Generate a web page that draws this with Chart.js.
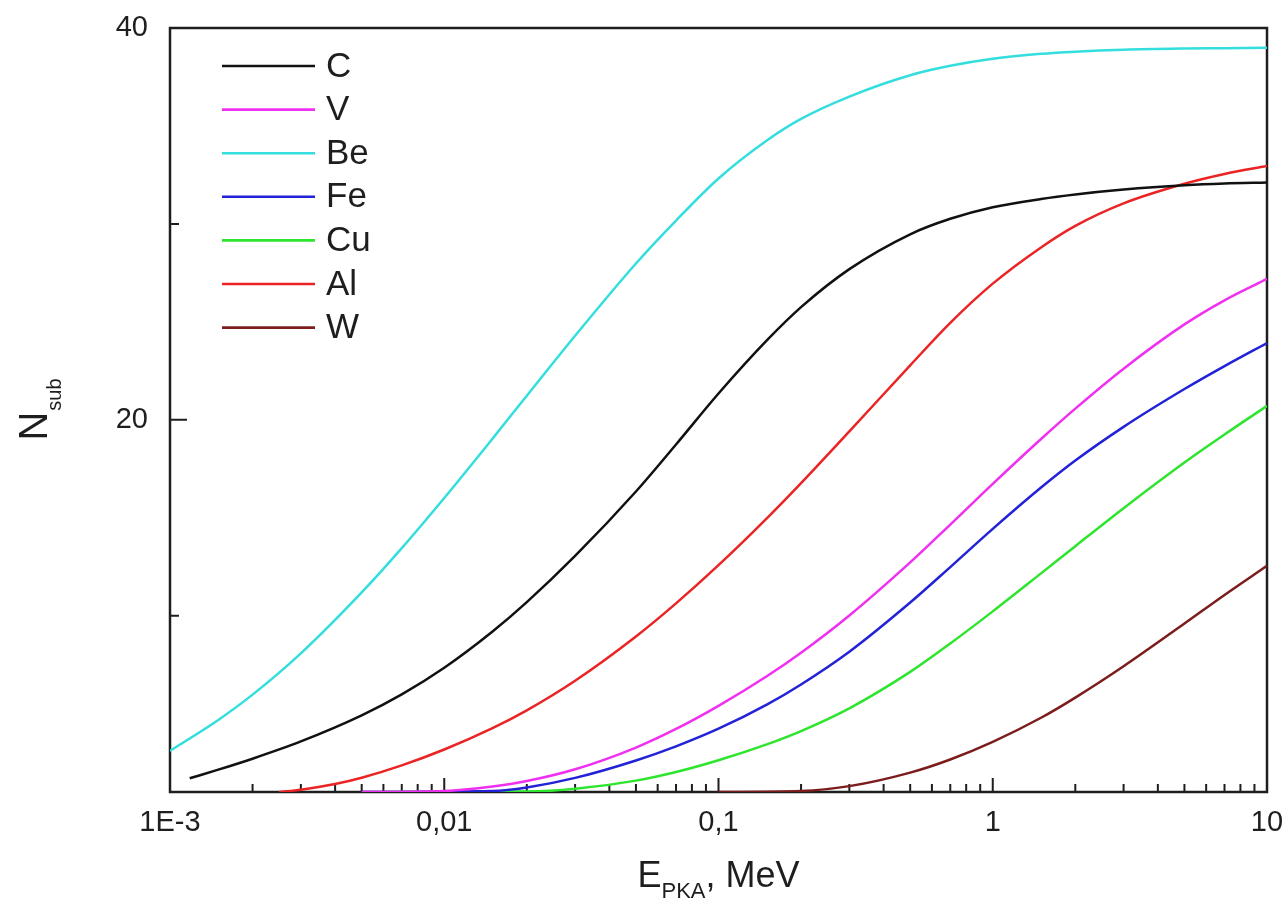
<!DOCTYPE html>
<html>
<head>
<meta charset="utf-8">
<script src="https://cdn.jsdelivr.net/npm/chart.js@4.4.1/dist/chart.umd.min.js"></script>
<style>
html,body{margin:0;padding:0;background:#ffffff;}
#wrap{width:1287px;height:902px;position:relative;}
</style>
</head>
<body>
<div id="wrap"><canvas id="chart" width="1287" height="902"></canvas></div>
<script>
// ---------- data ----------
const seriesNames = ['C', 'V', 'Be', 'Fe', 'Cu', 'Al', 'W'];

const energyC  = [0.00118, 0.0015, 0.002, 0.003, 0.005, 0.007, 0.01, 0.015, 0.02, 0.03, 0.05, 0.07, 0.1, 0.15, 0.2, 0.3, 0.5, 0.7, 1, 1.5, 2, 3, 5, 7, 10];
const nsubC    = [1.7, 2.14, 2.70, 3.58, 4.91, 5.98, 7.34, 9.19, 10.69, 13.05, 16.34, 18.74, 21.34, 24.05, 25.75, 27.69, 29.47, 30.26, 30.85, 31.27, 31.5, 31.75, 31.97, 32.06, 32.11];

const energyV  = [0.005, 0.01, 0.015, 0.02, 0.03, 0.05, 0.07, 0.1, 0.15, 0.2, 0.3, 0.5, 0.7, 1, 1.5, 2, 3, 5, 7, 10];
const nsubV    = [1.0, 1.05, 1.28, 1.56, 2.16, 3.27, 4.22, 5.4, 6.91, 8.11, 10.01, 12.72, 14.65, 16.73, 19.02, 20.57, 22.61, 24.87, 26.1, 27.19];

const energyBe = [0.001, 0.0015, 0.002, 0.003, 0.005, 0.007, 0.01, 0.015, 0.02, 0.03, 0.05, 0.07, 0.1, 0.15, 0.2, 0.3, 0.5, 0.7, 1, 1.5, 2, 3, 5, 7, 10];
const nsubBe   = [3.1, 4.68, 5.97, 8.08, 11.19, 13.45, 16.01, 19.04, 21.23, 24.29, 27.98, 30.17, 32.32, 34.26, 35.36, 36.5, 37.59, 38.07, 38.43, 38.68, 38.79, 38.89, 38.95, 38.97, 38.99];

const energyFe = [0.005, 0.015, 0.02, 0.03, 0.05, 0.07, 0.1, 0.15, 0.2, 0.3, 0.5, 0.7, 1, 1.5, 2, 3, 5, 7, 10];
const nsubFe   = [1.0, 1.05, 1.23, 1.72, 2.61, 3.33, 4.23, 5.46, 6.49, 8.16, 10.67, 12.48, 14.43, 16.54, 17.92, 19.64, 21.57, 22.74, 23.92];

const energyCu = [0.006, 0.02, 0.03, 0.05, 0.07, 0.1, 0.15, 0.2, 0.3, 0.5, 0.7, 1, 1.5, 2, 3, 5, 7, 10];
const nsubCu   = [1.0, 1.02, 1.16, 1.58, 2.02, 2.62, 3.43, 4.11, 5.27, 7.13, 8.58, 10.22, 12.16, 13.55, 15.49, 17.82, 19.25, 20.71];

const energyAl = [0.0025, 0.003, 0.004, 0.005, 0.007, 0.01, 0.015, 0.02, 0.03, 0.05, 0.07, 0.1, 0.15, 0.2, 0.3, 0.5, 0.7, 1, 1.5, 2, 3, 5, 7, 10];
const nsubAl   = [1.0, 1.12, 1.41, 1.73, 2.36, 3.17, 4.26, 5.17, 6.68, 8.94, 10.63, 12.58, 14.97, 16.77, 19.41, 22.78, 24.95, 26.95, 28.8, 29.9, 31.05, 32.05, 32.55, 32.96];

const energyW  = [0.1, 0.2, 0.3, 0.5, 0.7, 1, 1.5, 2, 3, 5, 7, 10];
const nsubW    = [1.0, 1.05, 1.30, 1.99, 2.66, 3.56, 4.79, 5.82, 7.42, 9.6, 11.06, 12.55];

// ticks
const xMajorTicks = [0.001, 0.01, 0.1, 1, 10];
const xTickLabels = ['1E-3', '0,01', '0,1', '1', '10'];
const xMinorMultipliers = [2, 3, 4, 5, 6, 7, 8, 9];
const yTickValues = [10, 20, 30, 40];
const yTickLabels = ['', '20', '', '40'];

// ---------- build ----------
const colors = {
  C: '#111111', V: '#f030f0', Be: '#34dede', Fe: '#2222d8',
  Cu: '#2ee52e', Al: '#ea2424', W: '#7c1c1c'
};
const seriesData = {
  C: [energyC, nsubC], V: [energyV, nsubV], Be: [energyBe, nsubBe],
  Fe: [energyFe, nsubFe], Cu: [energyCu, nsubCu], Al: [energyAl, nsubAl], W: [energyW, nsubW]
};

const xTickValues = [];
xMajorTicks.forEach((d, i) => {
  xTickValues.push(d);
  if (i < xMajorTicks.length - 1) xMinorMultipliers.forEach(m => xTickValues.push(d * m));
});

function isMajorX(v) {
  return xMajorTicks.findIndex(d => Math.abs(Math.log10(v) - Math.log10(d)) < 1e-6);
}

const FONT = "'Liberation Sans', Arial, Helvetica, sans-serif";
const INK = '#1e1e1e';

const datasets = seriesNames.map(name => ({
  label: name,
  data: seriesData[name][0].map((e, i) => ({x: e, y: seriesData[name][1][i]})),
  borderColor: colors[name],
  backgroundColor: colors[name],
  borderWidth: 2.5,
  pointRadius: 0,
  fill: false,
  cubicInterpolationMode: 'monotone'
}));

function zeroPadding(s) {
  s.paddingLeft = 0; s.paddingRight = 0; s.paddingTop = 0; s.paddingBottom = 0;
}

const framePlugin = {
  id: 'frameTicks',
  beforeDatasetsDraw(chart) {
    const {ctx, chartArea: ca, scales} = chart;
    ctx.save();
    ctx.strokeStyle = INK;
    ctx.lineWidth = 2.5;
    ctx.strokeRect(ca.left, ca.top, ca.right - ca.left, ca.bottom - ca.top);
    ctx.lineWidth = 2;
    ctx.beginPath();
    scales.x.ticks.forEach(t => {
      const px = scales.x.getPixelForValue(t.value);
      const len = isMajorX(t.value) >= 0 ? 14 : 8;
      ctx.moveTo(px, ca.bottom);
      ctx.lineTo(px, ca.bottom - len);
    });
    scales.y.ticks.forEach(t => {
      const py = scales.y.getPixelForValue(t.value);
      const len = (t.value % 20 === 0) ? 17 : 9;
      ctx.moveTo(ca.left, py);
      ctx.lineTo(ca.left + len, py);
    });
    ctx.stroke();
    ctx.restore();
  },
  afterDraw(chart) {
    const {ctx, chartArea: ca} = chart;
    ctx.save();
    ctx.fillStyle = INK;
    // legend inside plot
    ctx.textBaseline = 'middle';
    ctx.textAlign = 'left';
    ctx.font = '35px ' + FONT;
    chart.data.datasets.forEach((ds, i) => {
      const y = ca.top + 38 + i * 43.6;
      ctx.strokeStyle = ds.borderColor;
      ctx.lineWidth = 2.6;
      ctx.beginPath();
      ctx.moveTo(ca.left + 52, y);
      ctx.lineTo(ca.left + 145, y);
      ctx.stroke();
      ctx.fillText(ds.label, ca.left + 156, y + 1);
    });
    // x title: E_PKA, MeV
    ctx.textBaseline = 'alphabetic';
    const bigX = '36px ' + FONT, smallX = '22px ' + FONT;
    ctx.font = bigX; const wE = ctx.measureText('E').width; const wRest = ctx.measureText(', MeV').width;
    ctx.font = smallX; const wSub = ctx.measureText('PKA').width;
    let sx = (ca.left + ca.right) / 2 - (wE + wSub + wRest) / 2;
    const by = 887;
    ctx.font = bigX; ctx.fillText('E', sx, by);
    ctx.font = smallX; ctx.fillText('PKA', sx + wE, by + 11);
    ctx.font = bigX; ctx.fillText(', MeV', sx + wE + wSub, by);
    // y title: N_sub (rotated)
    ctx.translate(47, (ca.top + ca.bottom) / 2);
    ctx.rotate(-Math.PI / 2);
    const bigY = '40px ' + FONT, smallY = '20px ' + FONT;
    ctx.font = bigY; const wN = ctx.measureText('N').width;
    ctx.font = smallY; const wS = ctx.measureText('sub').width;
    const st = -(wN + wS) / 2;
    ctx.font = bigY; ctx.fillText('N', st, 0);
    ctx.font = smallY; ctx.fillText('sub', st + wN + 1, 14);
    ctx.restore();
  }
};

new Chart(document.getElementById('chart'), {
  type: 'line',
  data: {datasets},
  plugins: [framePlugin],
  options: {
    responsive: false,
    animation: false,
    devicePixelRatio: 1,
    layout: {padding: {top: 28, right: 20, left: 0, bottom: 0}},
    plugins: {legend: {display: false}, tooltip: {enabled: false}, title: {display: false}},
    scales: {
      x: {
        type: 'logarithmic',
        position: 'bottom',
        min: 0.001,
        max: 10,
        afterFit(s) { s.height = 110; zeroPadding(s); },
        afterBuildTicks(s) { s.ticks = xTickValues.map(v => ({value: v})); },
        grid: {display: false, drawTicks: false},
        border: {display: false},
        ticks: {
          autoSkip: false, maxRotation: 0, minRotation: 0, padding: 14,
          color: INK, font: {family: FONT, size: 29},
          callback(value) { const i = isMajorX(value); return i >= 0 ? xTickLabels[i] : ''; }
        }
      },
      y: {
        type: 'linear',
        position: 'left',
        min: 1,
        max: 40,
        afterFit(s) { s.width = 170; zeroPadding(s); },
        afterBuildTicks(s) { s.ticks = yTickValues.map(v => ({value: v})); },
        grid: {display: false, drawTicks: false},
        border: {display: false},
        ticks: {
          padding: 22, color: INK, font: {family: FONT, size: 29},
          callback(value) { const i = yTickValues.indexOf(value); return i >= 0 ? yTickLabels[i] : ''; }
        }
      }
    }
  }
});
</script>
</body>
</html>
